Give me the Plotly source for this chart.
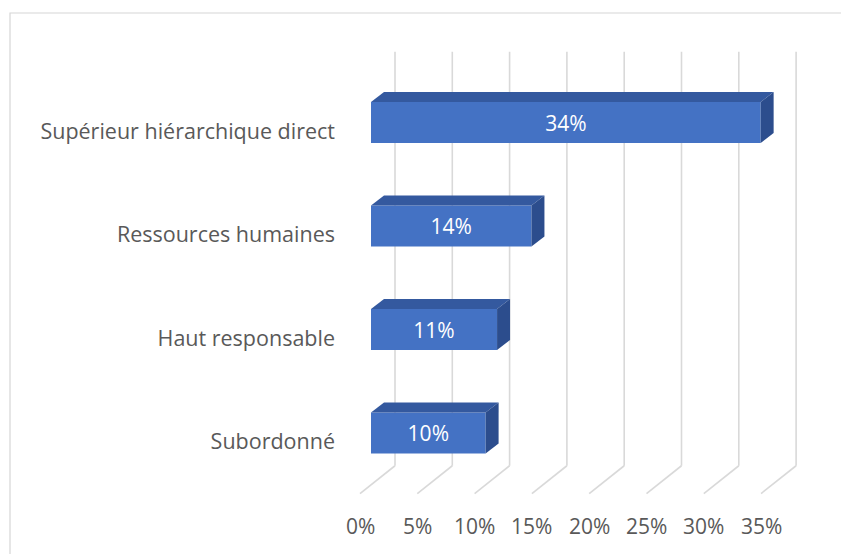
import plotly.graph_objects as go

# Survey results: share of respondents per category
categories = ["Subordonné", "Haut responsable", "Ressources humaines", "Supérieur hiérarchique direct"]
values = [10, 11, 14, 34]
tick_values = [0, 5, 10, 15, 20, 25, 30, 35]
tick_labels = ["0%", "5%", "10%", "15%", "20%", "25%", "30%", "35%"]

# Oblique 3D projection (x in %, y in category units)
PX_PER_PCT = 11.46
PX_PER_CAT = 103.5
bar_h = 41 / PX_PER_CAT                  # front-face thickness
dep_x, dep_y = 13 / PX_PER_PCT, 10 / PX_PER_CAT       # bar depth
wall_x, wall_y = 24 / PX_PER_PCT, 19 / PX_PER_CAT     # back wall offset
floor_x, floor_y = -11 / PX_PER_PCT, -8.8 / PX_PER_CAT  # floor front edge offset
y_lo, y_hi = -0.5, 3.5

FRONT = "#4472C4"
TOP = "#34599F"
SIDE = "#2C4D8D"
GRID = "#D9D9D9"
TEXT = "#595959"
FONT = "Open Sans"

fig = go.Figure()

ypos = list(range(len(categories)))

# front faces
fig.add_trace(go.Bar(
    x=values, y=ypos, orientation="h", width=bar_h,
    marker=dict(color=FRONT, line=dict(width=0)),
    text=[f"{v}%" for v in values], textposition="inside",
    insidetextanchor="middle", constraintext="none",
    textfont=dict(color="white", size=21, family=FONT),
    hoverinfo="skip", showlegend=False,
))

# top and side faces
for yi, v in zip(ypos, values):
    top = yi + bar_h / 2
    bot = yi - bar_h / 2
    fig.add_trace(go.Scatter(
        x=[0, v, v + dep_x, dep_x, 0],
        y=[top, top, top + dep_y, top + dep_y, top],
        fill="toself", fillcolor=TOP, mode="lines",
        line=dict(width=0, color=TOP), hoverinfo="skip", showlegend=False,
    ))
    fig.add_trace(go.Scatter(
        x=[v, v + dep_x, v + dep_x, v, v],
        y=[bot, bot + dep_y, top + dep_y, top, bot],
        fill="toself", fillcolor=SIDE, mode="lines",
        line=dict(width=0, color=SIDE), hoverinfo="skip", showlegend=False,
    ))

# back-wall and floor gridlines
shapes = []
for t in tick_values:
    shapes.append(dict(type="line", xref="x", yref="y", layer="below",
                       x0=t + wall_x, y0=y_lo + wall_y, x1=t + wall_x, y1=y_hi + wall_y,
                       line=dict(color=GRID, width=1.6)))
    shapes.append(dict(type="line", xref="x", yref="y", layer="below",
                       x0=t + wall_x, y0=y_lo + wall_y, x1=t + floor_x, y1=y_lo + floor_y,
                       line=dict(color=GRID, width=1.6)))

# chart border
shapes.append(dict(type="rect", xref="paper", yref="paper",
                   x0=(10 - 340) / 480, x1=(860 - 340) / 480,
                   y0=(540 - 570) / 520, y1=(540 - 13) / 520,
                   line=dict(color="#D6D6D6", width=1.2), fillcolor="rgba(0,0,0,0)"))

# value-axis labels along the floor front edge
annotations = []
for t, lab in zip(tick_values, tick_labels):
    annotations.append(dict(x=t + floor_x, y=y_lo + floor_y, xref="x", yref="y",
                            text=lab, showarrow=False, yshift=-32,
                            font=dict(size=21, color=TEXT, family=FONT)))

fig.update_layout(
    width=841, height=554,
    margin=dict(l=340, r=21, t=20, b=14),
    paper_bgcolor="white", plot_bgcolor="white",
    showlegend=False,
    shapes=shapes, annotations=annotations,
    xaxis=dict(range=[-31 / PX_PER_PCT, 449 / PX_PER_PCT], showgrid=False,
               zeroline=False, showticklabels=False, fixedrange=True),
    yaxis=dict(range=[-107 / PX_PER_CAT, 413 / PX_PER_CAT], showgrid=False,
               zeroline=False, tickmode="array",
               tickvals=[y + floor_y for y in ypos], ticktext=categories,
               ticks="", ticklabelstandoff=4,
               tickfont=dict(size=21.5, color=TEXT, family=FONT), fixedrange=True),
)

fig.write_html("out.html")
